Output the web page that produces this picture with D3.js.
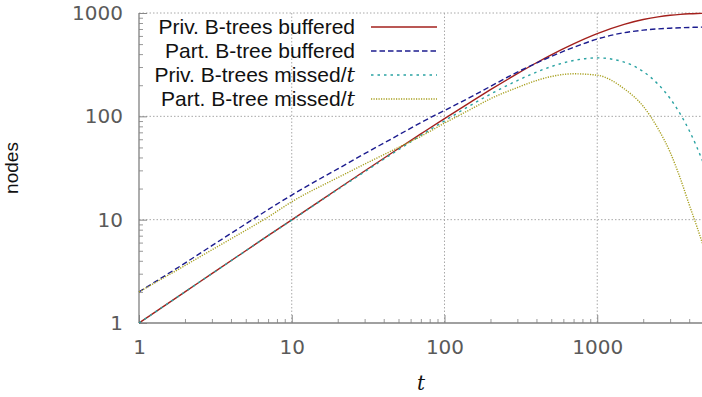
<!DOCTYPE html>
<html>
<head>
<meta charset="utf-8">
<script src="https://cdn.jsdelivr.net/npm/d3@7"></script>
<style>
  body { margin: 0; background: #fff; }
  svg { display: block; }
  .tick text { font-family: "DejaVu Sans", sans-serif; font-size: 20px; fill: #5a5a5a; }
</style>
</head>
<body>
<div id="chart"></div>
<script>
var tValues = [1, 2, 3, 5, 7, 10, 20, 30, 50, 70, 100, 150, 200, 300, 400, 500, 700,
               1000, 1500, 2000, 2500, 3000, 3500, 4000, 4500, 5000];

var privBuffered = [1, 2, 3, 5, 7, 9.95, 19.8, 29.6, 48.8, 67.6, 95.2, 139, 181, 259, 330, 394, 503,
                    632, 777, 865, 918, 950, 970, 982, 989, 993];
var partBuffered = [2, 3.8, 5.6, 9.1, 12.5, 17.3, 31, 43.5, 66, 87, 114, 155, 195, 268, 328, 380, 465,
                    560, 645, 682, 702, 713, 720, 725, 728, 730];
var privMissed = [1, 2, 3, 5, 7, 9.9, 19.6, 29.1, 47.6, 65.3, 90.5, 129, 164, 222, 268, 303, 347,
                  368, 335, 271, 205, 149, 105, 73, 50, 34];
var partMissed = [2, 3.6, 5.1, 7.9, 10.6, 14.9, 25.5, 34.5, 50, 64, 86, 118, 148, 190, 222, 243, 258,
                  250, 185, 125, 76, 45, 25, 14, 8.5, 5.3];

var seriesNames = ["Priv. B-trees buffered", "Part. B-tree buffered", "Priv. B-trees missed/", "Part. B-tree missed/"];
var seriesItalic = ["", "", "t", "t"];
var seriesColors = ["#a3201c", "#1c1c8f", "#2aa3a3", "#a8a020"];
var seriesDash = [null, "5.5,3", "2.5,4", "1.2,1.3"];
var seriesData = [privBuffered, partBuffered, privMissed, partMissed];

var xTicks = [1, 10, 100, 1000];
var yTicks = [1, 10, 100, 1000];

var W = 702, H = 397;
var margin = {top: 13, right: -2, bottom: 74, left: 139},
    width = W - margin.left - margin.right,
    height = H - margin.top - margin.bottom;

var svg = d3.select("#chart").append("svg")
    .attr("width", W)
    .attr("height", H);

var g = svg.append("g")
    .attr("transform", "translate(" + margin.left + "," + margin.top + ")");

var x = d3.scaleLog().domain([1, 5000]).range([0, width]);
var y = d3.scaleLog().domain([1, 1000]).range([height, 0]);

// minor tick values
var xMinor = [], yMinor = [];
[1, 10, 100, 1000].forEach(function(d) {
  for (var k = 2; k <= 9; k++) {
    if (d * k <= 5000) xMinor.push(d * k);
    if (d * k < 1000) yMinor.push(d * k);
  }
});

// grid lines
g.append("g").selectAll("line")
  .data(xTicks.slice(1))
  .enter().append("line")
    .attr("x1", function(d) { return x(d); })
    .attr("x2", function(d) { return x(d); })
    .attr("y1", 0).attr("y2", height)
    .attr("stroke", "#a8a8a8")
    .attr("stroke-dasharray", "1.5,2");

g.append("g").selectAll("line")
  .data(yTicks.slice(1))
  .enter().append("line")
    .attr("x1", 0).attr("x2", W - margin.left)
    .attr("y1", function(d) { return y(d); })
    .attr("y2", function(d) { return y(d); })
    .attr("stroke", "#a8a8a8")
    .attr("stroke-dasharray", "1.5,2");

// x axis: minor then major
g.append("g")
  .attr("transform", "translate(0," + height + ")")
  .call(d3.axisBottom(x).tickValues(xMinor).tickSize(-4).tickFormat(""))
  .call(function(a) { a.select(".domain").remove(); a.selectAll("line").attr("stroke", "#999"); });

var xAxis = g.append("g")
  .attr("transform", "translate(0," + height + ")")
  .call(d3.axisBottom(x).tickValues(xTicks).tickSize(-8).tickPadding(17)
        .tickFormat(function(d) { return d; }));
xAxis.select(".domain").remove();
xAxis.selectAll("line").attr("stroke", "#888");
xAxis.selectAll("text").attr("font-family", null).attr("font-size", null);

// y axis: minor then major
g.append("g")
  .call(d3.axisLeft(y).tickValues(yMinor).tickSize(-4).tickFormat(""))
  .call(function(a) { a.select(".domain").remove(); a.selectAll("line").attr("stroke", "#999"); });

var yAxis = g.append("g")
  .call(d3.axisLeft(y).tickValues(yTicks).tickSize(-8).tickPadding(16)
        .tickFormat(function(d) { return d; }));
yAxis.select(".domain").remove();
yAxis.selectAll("line").attr("stroke", "#888");
yAxis.selectAll("text").attr("font-family", null).attr("font-size", null);

// border lines (left and bottom)
g.append("line").attr("x1", 0).attr("x2", 0).attr("y1", 0).attr("y2", height)
  .attr("stroke", "#808080").attr("stroke-width", 1.3);
g.append("line").attr("x1", 0).attr("x2", W - margin.left).attr("y1", height).attr("y2", height)
  .attr("stroke", "#808080").attr("stroke-width", 1.3);

// curves
var line = d3.line()
  .x(function(d) { return x(d[0]); })
  .y(function(d) { return y(d[1]); })
  .curve(d3.curveMonotoneX);

seriesData.forEach(function(vals, i) {
  var pts = tValues.map(function(t, j) { return [t, vals[j]]; });
  g.append("path")
    .datum(pts)
    .attr("d", line)
    .attr("fill", "none")
    .attr("stroke", seriesColors[i])
    .attr("stroke-width", 1.4)
    .attr("stroke-dasharray", seriesDash[i]);
});

// legend
var legend = svg.append("g");
seriesNames.forEach(function(name, i) {
  var cy = 27 + i * 24;
  var txt = legend.append("text")
    .attr("x", 355).attr("y", cy + 7)
    .attr("text-anchor", "end")
    .attr("font-family", "Liberation Sans, Arial, sans-serif")
    .attr("font-size", 21)
    .attr("fill", "#111")
    .text(name);
  if (seriesItalic[i]) {
    txt.append("tspan")
      .attr("font-family", "DejaVu Serif, serif")
      .attr("font-style", "italic")
      .text(seriesItalic[i]);
  }
  legend.append("line")
    .attr("x1", 371).attr("x2", 437)
    .attr("y1", cy).attr("y2", cy)
    .attr("stroke", seriesColors[i])
    .attr("stroke-width", 1.4)
    .attr("stroke-dasharray", seriesDash[i]);
});

// axis labels
svg.append("text")
  .attr("transform", "translate(18," + 168 + ") rotate(-90)")
  .attr("text-anchor", "middle")
  .attr("font-family", "Liberation Sans, Arial, sans-serif")
  .attr("font-size", 19)
  .attr("fill", "#111")
  .text("nodes");

svg.append("text")
  .attr("x", 421).attr("y", 390)
  .attr("text-anchor", "middle")
  .attr("font-family", "DejaVu Serif, serif")
  .attr("font-style", "italic")
  .attr("font-size", 20)
  .attr("fill", "#111")
  .text("t");
</script>
</body>
</html>
